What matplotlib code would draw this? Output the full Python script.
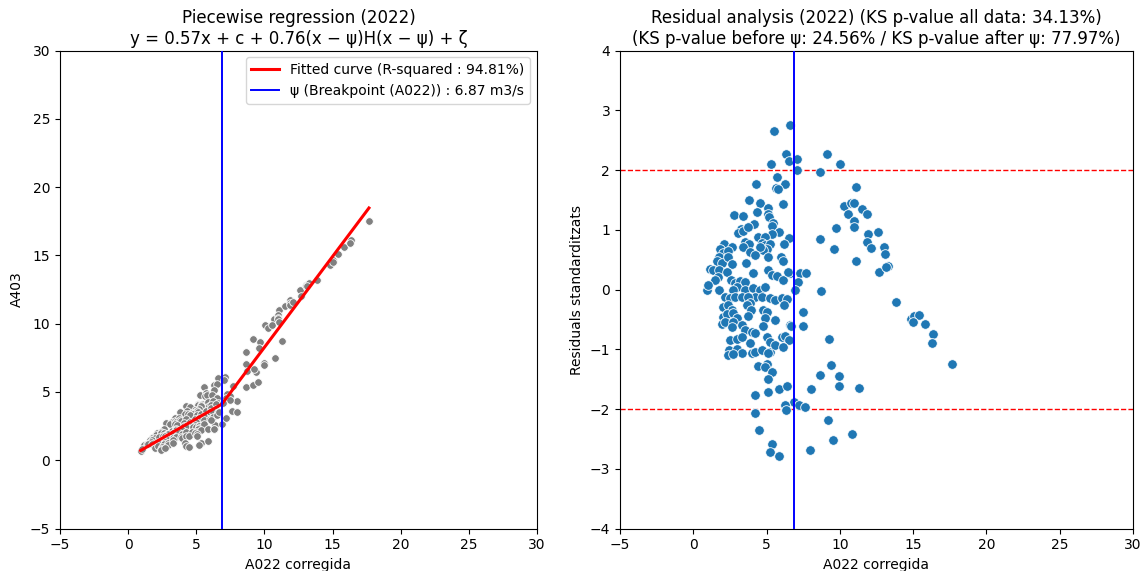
import numpy as np
import matplotlib
matplotlib.use("Agg")
import matplotlib.pyplot as plt

# -----------------------------
# Data
# -----------------------------
psi = 6.87          # breakpoint (A022)
slope1 = 0.57       # slope before psi
slope2 = 0.76       # extra slope after psi
intercept = 0.19    # c
resid_std = 0.76    # scale used to standardise residuals
r_squared = 94.81
ks_all, ks_before, ks_after = 34.13, 24.56, 77.97

# A022 corregida (x) and standardised residuals
x_vals = [
    6.60, 5.53, 6.30, 6.53, 5.28, 7.10, 7.05, 8.64, 9.14, 10.01, 5.73, 4.28, 5.62, 6.28, 5.75, 11.08,
    10.28, 10.73, 10.96, 11.49, 10.53, 11.87, 10.96, 10.96, 9.71, 11.89, 11.85, 12.12, 12.58, 8.62,
    9.57, 11.10, 12.67, 8.73, 7.28, 7.69, 7.16,
    3.80, 4.55, 5.12, 6.14, 4.32, 5.12, 5.16, 2.80, 3.41, 4.16, 5.41, 5.35, 3.23, 3.07, 3.41, 3.75,
    5.87, 5.35, 4.39, 4.89, 6.53, 3.53, 3.82, 3.41, 4.66, 4.89, 5.23, 5.05, 4.73, 4.55, 6.21, 2.09,
    1.82, 2.05, 2.66, 2.39, 3.87, 4.21, 5.12, 5.96, 1.78, 1.59, 1.94, 2.39, 2.62, 3.60, 6.10, 1.14,
    1.37, 1.78, 2.28, 1.71, 1.48, 4.10, 5.07, 5.35, 5.69, 6.10, 6.60, 6.44, 2.55, 2.84, 3.19, 3.53,
    2.96, 2.73, 0.91, 1.03, 1.78, 3.53, 4.10, 4.55, 4.89, 4.21, 4.66, 2.16, 2.50, 2.84, 3.30, 3.75,
    3.87, 3.64, 5.23, 5.57, 6.03, 6.41, 6.21, 2.00, 2.39, 2.62, 2.05, 2.28, 2.73, 2.96, 4.78, 5.01,
    4.89, 3.94, 3.75, 5.57, 1.94, 2.16, 2.73, 2.62, 3.30, 3.53, 3.98, 4.21, 4.73, 6.60, 2.50, 2.96,
    3.30, 5.01, 5.23, 6.03, 6.26, 6.55, 3.87, 2.44, 2.96, 3.30, 2.39, 2.73, 3.98, 4.21, 4.66, 5.23,
    5.12, 5.57, 4.44, 5.01, 4.89,
    5.35, 5.07, 4.19, 5.07, 5.87, 6.37, 8.01, 8.64, 9.39, 9.96, 9.96, 11.30, 9.26, 7.51, 7.46, 6.64,
    6.87, 6.28, 6.32, 7.19, 7.62, 4.23, 4.48, 5.35, 5.23, 5.87, 7.96, 9.17, 9.53, 10.80, 6.10, 6.94,
    13.03, 13.05, 13.30, 13.14, 13.85, 14.83, 15.05, 15.37, 15.01, 15.83, 16.35, 16.28, 17.67,
]
std_resid = [
    2.75, 2.65, 2.27, 2.15, 2.10, 2.19, 2.00, 1.97, 2.26, 2.10, 1.89, 1.76, 1.70, 1.76, 1.68, 1.72,
    1.40, 1.44, 1.45, 1.35, 1.26, 1.26, 1.15, 1.04, 1.03, 0.93, 0.80, 0.70, 0.96, 0.85,
    0.67, 0.47, 0.29, -0.03, 0.28, 0.27, 0.12,
    1.50, 1.45, 1.36, 1.43, 1.30, 1.26, 1.22, 1.25, 1.23, 1.09, 1.11, 1.06, 1.02, 0.94, 0.98, 1.04,
    0.96, 0.93, 0.88, 0.88, 0.87, 0.80, 0.77, 0.72, 0.78, 0.74, 0.77, 0.67, 0.66, 0.72, 0.76, 0.77,
    0.67, 0.61, 0.72, 0.65, 0.63, 0.58, 0.55, 0.55, 0.55, 0.48, 0.45, 0.55, 0.43, 0.45, 0.48, 0.34,
    0.33, 0.33, 0.30, 0.21, 0.16, 0.28, 0.33, 0.24, 0.23, 0.16, 0.27, 0.30, 0.16, 0.11, 0.15, 0.13,
    0.05, -0.01, -0.01, 0.08, 0.00, -0.01, 0.02, -0.01, 0.05, -0.12, -0.12, -0.12, -0.15, -0.12, -0.13, -0.12,
    -0.23, -0.26, -0.15, -0.18, -0.15, -0.16, -0.26, -0.29, -0.26, -0.34, -0.46, -0.41, -0.40, -0.48, -0.34, -0.37,
    -0.48, -0.34, -0.44, -0.51, -0.57, -0.54, -0.54, -0.62, -0.60, -0.68, -0.71, -0.73, -0.61, -0.60, -0.85, -0.82,
    -0.79, -0.79, -0.87, -0.79, -0.78, -0.85, -0.89, -1.01, -1.00, -1.07, -1.10, -1.08, -1.07, -1.04, -1.01, -1.04,
    -1.07, -0.93, -1.28, -1.25, -1.29,
    -1.38, -1.50, -1.76, -1.71, -1.67, -1.62, -1.67, -1.43, -1.27, -1.44, -1.62, -1.64, -0.82, -0.38, -0.61, -0.61,
    -1.89, -1.93, -2.01, -1.94, -1.96, -2.07, -2.35, -2.59, -2.72, -2.78, -2.68, -2.18, -2.52, -2.41, -0.96, 0.00,
    0.71, 0.60, 0.40, 0.38, -0.21, -0.50, -0.45, -0.43, -0.55, -0.57, -0.74, -0.90, -1.25,
]


def piecewise(x):
    x = np.asarray(x, dtype=float)
    return intercept + slope1 * x + slope2 * (x - psi) * (x > psi)


x = np.array(x_vals)
r = np.array(std_resid)
# A403 = fitted + residual (residual shown standardised on the right panel)
y = piecewise(x) + r * resid_std

x_line = np.array([x.min(), psi, x.max()])
y_line = piecewise(x_line)

# -----------------------------
# Plot
# -----------------------------
plt.rcParams["font.size"] = 10
fig = plt.figure(figsize=(11.43, 5.71), dpi=100)
ax1 = fig.add_axes([0.0525, 0.0744, 0.4173, 0.8371])
ax2 = fig.add_axes([0.5424, 0.0744, 0.4488, 0.8371])

# Left: piecewise regression
ax1.scatter(x, y, s=30, color="grey", edgecolors="white", linewidths=0.6, zorder=2)
ax1.plot(x_line, y_line, color="red", linewidth=2.2, zorder=3,
         label=f"Fitted curve (R-squared : {r_squared:.2f}%)")
ax1.axvline(psi, color="blue", linewidth=1.4, zorder=3,
            label=f"ψ (Breakpoint (A022)) : {psi:.2f} m3/s")
ax1.set_xlim(-5, 30)
ax1.set_ylim(-5, 30)
ax1.set_xlabel("A022 corregida")
ax1.set_ylabel("A403")
ax1.set_title("Piecewise regression (2022)\n"
              f"y = {slope1:.2f}x + c + {slope2:.2f}(x − ψ)H(x − ψ) + ζ", fontsize=12, pad=4.5)
ax1.legend(loc="upper right", fontsize=10)

# Right: residual analysis
ax2.scatter(x, r, s=48, color="#1f77b4", edgecolors="white", linewidths=0.6, zorder=2)
ax2.axvline(psi, color="blue", linewidth=1.4, zorder=3)
ax2.axhline(2, color="red", linestyle="--", linewidth=1, zorder=1)
ax2.axhline(-2, color="red", linestyle="--", linewidth=1, zorder=1)
ax2.set_xlim(-5, 30)
ax2.set_ylim(-4, 4)
ax2.set_xlabel("A022 corregida")
ax2.set_ylabel("Residuals standarditzats")
ax2.set_title(f"Residual analysis (2022) (KS p-value all data: {ks_all:.2f}%)\n"
              f"(KS p-value before ψ: {ks_before:.2f}% / KS p-value after ψ: {ks_after:.2f}%)",
              fontsize=12, pad=4.5)

fig.savefig("out.png", dpi=100)
plt.close(fig)
